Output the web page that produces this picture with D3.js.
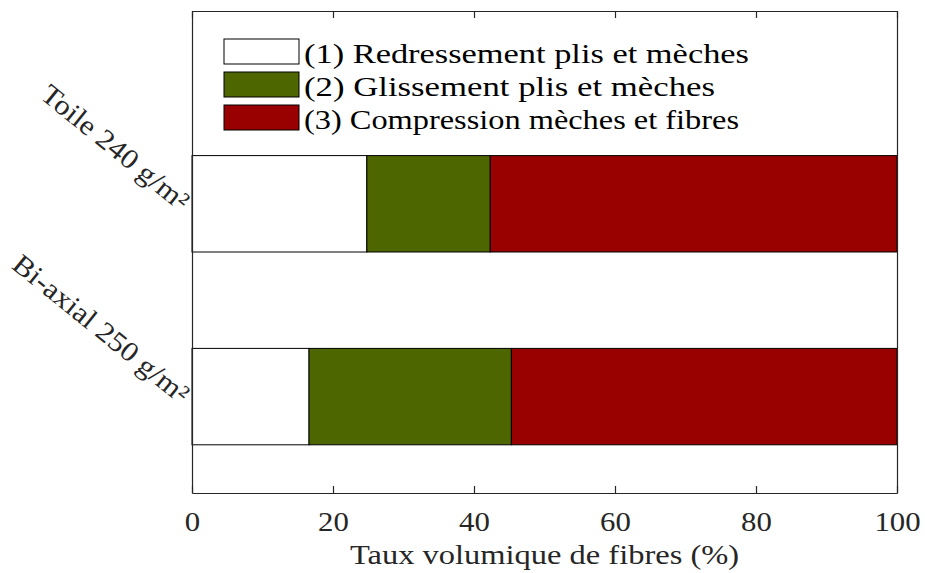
<!DOCTYPE html>
<html>
<head>
<meta charset="utf-8">
<script src="https://cdn.jsdelivr.net/npm/d3@7"></script>
<style>
body { margin: 0; background: #fff; }
text { font-family: "Liberation Serif", "Times New Roman", serif; fill: #262626; }
</style>
</head>
<body>
<svg id="chart" width="925" height="573"></svg>
<script>
const categories = ["Toile 240 g/m²", "Bi-axial 250 g/m²"];
const seriesNames = ["(1) Redressement plis et mèches", "(2) Glissement plis et mèches", "(3) Compression mèches et fibres"];
const seriesColors = ["#ffffff", "#4d6600", "#990000"];
const phase1 = [24.8, 16.6];
const phase2 = [17.5, 28.7];
const phase3 = [57.7, 54.7];
const xTicks = [0, 20, 40, 60, 80, 100];
const xTitle = "Taux volumique de fibres (%)";

const svg = d3.select("#chart");
const mLeft = 192, mRight = 897, mTop = 11, mBottom = 493;
const legendTextLen = [445, 411, 435];
const x = d3.scaleLinear().domain([0, 100]).range([mLeft, mRight]);
const y = d3.scaleLinear().domain([0, 2.5]).range([mTop, mBottom]);
const barH = y(0.5) - y(0);

function stretch(sel, k) {
  sel.each(function () {
    const len = this.getComputedTextLength();
    d3.select(this).attr("textLength", len * k).attr("lengthAdjust", "spacingAndGlyphs");
  });
}

const rows = categories.map((c, i) => ({ cat: c, idx: i + 1, vals: [phase1[i], phase2[i], phase3[i]] }));
const segs = [];
rows.forEach(r => {
  let acc = 0;
  r.vals.forEach((v, k) => { segs.push({ idx: r.idx, x0: acc, x1: acc + v, k }); acc += v; });
});

svg.append("g").selectAll("rect").data(segs).join("rect")
  .attr("x", d => x(d.x0))
  .attr("width", d => x(d.x1) - x(d.x0))
  .attr("y", d => y(d.idx) - barH / 2)
  .attr("height", barH)
  .attr("fill", d => seriesColors[d.k])
  .attr("stroke", "#000")
  .attr("stroke-width", 1);

// axes
const axB = d3.axisBottom(x).tickValues(xTicks).tickSizeInner(-7).tickSizeOuter(0).tickPadding(0);
const gB = svg.append("g").attr("transform", `translate(0,${mBottom})`).call(axB);
gB.selectAll("text").attr("dy", null).attr("y", 38).style("font-size", "28px").style("fill", "#262626");
stretch(gB.selectAll("text"), 1.1);
const axT = d3.axisTop(x).tickValues(xTicks).tickSizeInner(-7).tickSizeOuter(0).tickFormat("");
svg.append("g").attr("transform", `translate(0,${mTop})`).call(axT);
const axL = d3.axisLeft(y).tickValues([1, 2]).tickSizeInner(0).tickSizeOuter(0).tickFormat("");
svg.append("g").attr("transform", `translate(${mLeft},0)`).call(axL);
const axR = d3.axisRight(y).tickValues([1, 2]).tickSizeInner(0).tickSizeOuter(0).tickFormat("");
svg.append("g").attr("transform", `translate(${mRight},0)`).call(axR);
svg.selectAll(".domain, .tick line").attr("stroke", "#262626").attr("stroke-width", 1.2);

// y labels rotated
const yl = svg.append("g").selectAll("text").data(rows).join("text")
  .attr("transform", d => `translate(${mLeft - 12},${y(d.idx) + 8}) rotate(39)`)
  .attr("text-anchor", "end")
  .style("font-size", "28px")
  .text(d => d.cat);
stretch(yl, 1.1);

// x title
const xt = svg.append("text")
  .attr("x", (mLeft + mRight) / 2)
  .attr("y", 564)
  .attr("text-anchor", "middle")
  .style("font-size", "28px")
  .text(xTitle);
stretch(xt, 1.16);

// legend
const lg = svg.append("g");
seriesNames.forEach((n, i) => {
  lg.append("rect").attr("x", 224).attr("y", 39 + i * 33).attr("width", 75).attr("height", 25)
    .attr("fill", seriesColors[i]).attr("stroke", "#000").attr("stroke-width", 1);
  lg.append("text").attr("x", 304).attr("y", 63 + i * 33).style("font-size", "28px").style("fill", "#000")
    .attr("textLength", legendTextLen[i]).attr("lengthAdjust", "spacingAndGlyphs").text(n);
});
</script>
</body>
</html>
